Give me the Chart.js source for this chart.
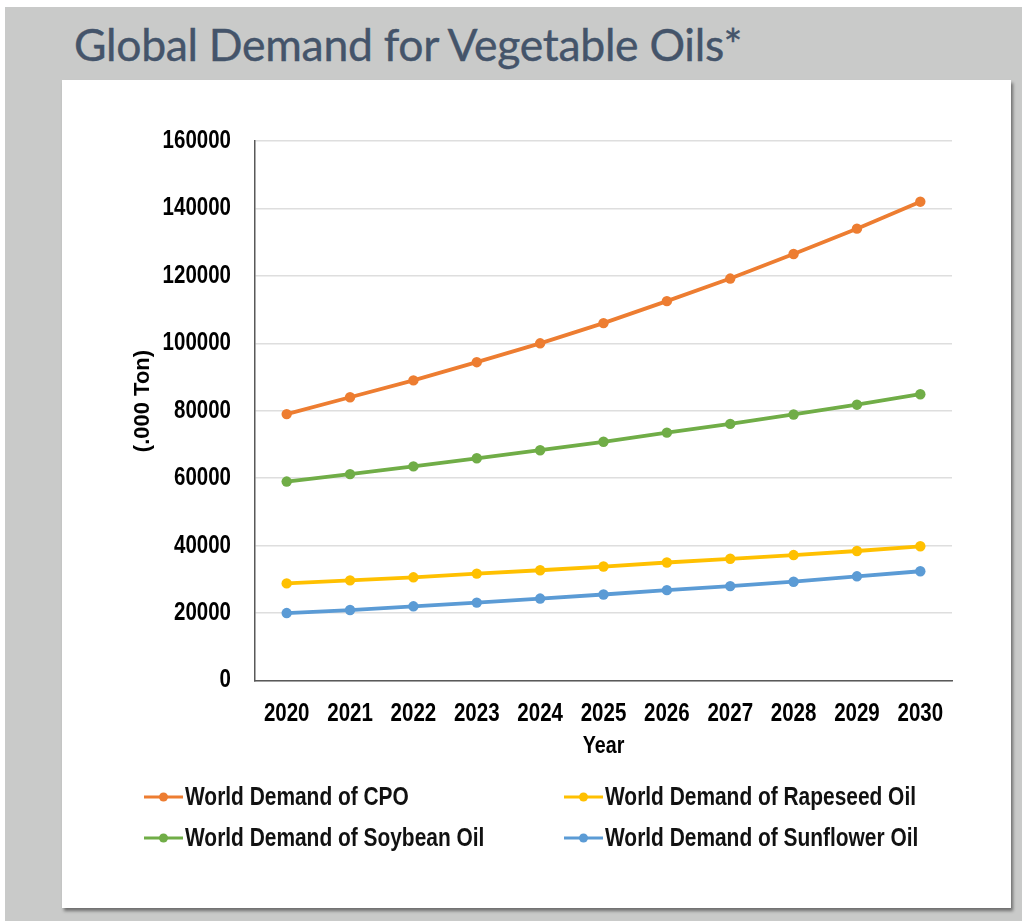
<!DOCTYPE html>
<html>
<head>
<meta charset="utf-8">
<title>Global Demand for Vegetable Oils</title>
<script src="https://cdn.jsdelivr.net/npm/chart.js@4/dist/chart.umd.min.js"></script>
<style>
  html, body { margin: 0; padding: 0; background: #ffffff; }
  body { width: 1022px; height: 923px; position: relative; overflow: hidden; }
  #backdrop { position: absolute; left: 5px; top: 7px; width: 1017px; height: 914px; background: #c9cac9; }
  h1 { position: absolute; left: 74px; top: 17px; margin: 0; font: 400 44.5px Lato, 'Open Sans', sans-serif; color: #44546a; letter-spacing: -0.3px; white-space: nowrap; -webkit-text-stroke: 0.4px #44546a; }
  #panel { position: absolute; left: 62px; top: 80px; width: 949px; height: 828px; background: #ffffff; box-shadow: 2px 3px 3px rgba(0,0,0,0.45); }
  #panel canvas { position: absolute; left: 0; top: 0; }
</style>
</head>
<body>
<div id="backdrop"></div>
<h1>Global Demand for Vegetable Oils*</h1>
<div id="panel"><canvas id="chart" width="949" height="828"></canvas></div>
<script>
// Years on the category axis
const years = ['2020', '2021', '2022', '2023', '2024', '2025', '2026', '2027', '2028', '2029', '2030'];

// Projected demand, thousand tonnes
const cpoDemand       = [79000, 84000, 89000, 94400, 100000, 106000, 112500, 119200, 126500, 134000, 142000];
const rapeseedDemand  = [28800, 29700, 30600, 31700, 32700, 33800, 35000, 36100, 37200, 38400, 39800];
const soybeanDemand   = [59000, 61200, 63500, 65900, 68300, 70800, 73500, 76100, 78900, 81800, 84900];
const sunflowerDemand = [20000, 20900, 22000, 23100, 24300, 25500, 26800, 28000, 29300, 30900, 32400];

const seriesNames = [
  'World Demand of CPO',
  'World Demand of Rapeseed Oil',
  'World Demand of Soybean Oil',
  'World Demand of Sunflower Oil'
];

const valueAxisTitle = '(.000 Ton)';
const categoryAxisTitle = 'Year';

// Value axis range
const yMin = 0;
const yMax = 160000;
const yStep = 20000;

const NARROW = "'Liberation Sans Narrow', 'Arial Narrow', 'Liberation Sans', Arial, sans-serif";
const WIDE = "'Liberation Sans', Arial, sans-serif";

const canvas = document.getElementById('chart');
const ctx2d = canvas.getContext('2d');

// A narrow sans face is not always installed. When it falls back to the
// regular width, squeeze the glyphs horizontally around their anchor point
// so labels keep the condensed proportions.
(function condenseNarrowText(ctx) {
  ctx.font = 'bold 40px ' + NARROW;
  const wNarrow = ctx.measureText('World 2020').width;
  ctx.font = 'bold 40px ' + WIDE;
  const wWide = ctx.measureText('World 2020').width;
  if (Math.abs(wNarrow - wWide) > 0.5) return;
  const squeeze = 0.82;
  const baseFill = ctx.fillText;
  ctx.fillText = function (text, x, y, maxWidth) {
    if (this.font.indexOf('Narrow') < 0) {
      return maxWidth === undefined ? baseFill.call(this, text, x, y) : baseFill.call(this, text, x, y, maxWidth);
    }
    this.save();
    this.translate(x, y);
    this.scale(squeeze, 1);
    if (maxWidth === undefined) baseFill.call(this, text, 0, 0);
    else baseFill.call(this, text, 0, 0, maxWidth / squeeze);
    this.restore();
  };
})(ctx2d);

function lineSeries(label, data, color) {
  return {
    label: label,
    data: data,
    borderColor: color,
    backgroundColor: color,
    pointBackgroundColor: color,
    pointBorderColor: color,
    borderWidth: 3.8,
    pointRadius: 5.2,
    pointBorderWidth: 0,
    tension: 0,
    fill: false
  };
}

// Rotated value-axis caption, placed left of the tick labels
const valueAxisCaption = {
  id: 'valueAxisCaption',
  afterDraw(chart, args, opts) {
    const ctx = chart.ctx;
    ctx.save();
    ctx.translate(opts.x, opts.y);
    ctx.rotate(-Math.PI / 2);
    ctx.fillStyle = '#000000';
    ctx.font = 'bold 22px ' + WIDE;
    ctx.textAlign = 'center';
    ctx.textBaseline = 'middle';
    ctx.fillText(opts.text, 0, 0);
    ctx.restore();
  }
};

// Two-column legend laid out in a fixed grid below the axis
const gridLegend = {
  id: 'gridLegend',
  afterDraw(chart, args, opts) {
    const ctx = chart.ctx;
    ctx.save();
    chart.data.datasets.forEach((ds, i) => {
      const col = i % 2;
      const row = Math.floor(i / 2);
      const x = opts.columns[col];
      const y = opts.rows[row];
      ctx.strokeStyle = ds.borderColor;
      ctx.lineWidth = 3;
      ctx.beginPath();
      ctx.moveTo(x, y);
      ctx.lineTo(x + opts.sampleLength, y);
      ctx.stroke();
      ctx.fillStyle = ds.borderColor;
      ctx.beginPath();
      ctx.arc(x + opts.sampleLength / 2, y, 4.5, 0, Math.PI * 2);
      ctx.fill();
      ctx.fillStyle = '#111111';
      ctx.font = 'bold 25.5px ' + NARROW;
      ctx.textAlign = 'left';
      ctx.textBaseline = 'middle';
      ctx.fillText(ds.label, x + opts.sampleLength + 2, y + 1);
    });
    ctx.restore();
  }
};

new Chart(canvas, {
  type: 'line',
  data: {
    labels: years,
    datasets: [
      lineSeries(seriesNames[0], cpoDemand, '#ed7d31'),
      lineSeries(seriesNames[1], rapeseedDemand, '#ffc000'),
      lineSeries(seriesNames[2], soybeanDemand, '#70ad47'),
      lineSeries(seriesNames[3], sunflowerDemand, '#5b9bd5')
    ]
  },
  options: {
    responsive: false,
    animation: false,
    devicePixelRatio: 1,
    layout: { padding: { left: 0, top: 61, right: 59, bottom: 147 } },
    plugins: {
      legend: { display: false },
      tooltip: { enabled: false },
      title: { display: false },
      valueAxisCaption: { text: valueAxisTitle, x: 81, y: 321 },
      gridLegend: { columns: [82, 502], rows: [717, 758], sampleLength: 39 }
    },
    scales: {
      x: {
        type: 'category',
        offset: true,
        grid: { display: false, drawTicks: false },
        border: { display: true, color: '#595959', width: 1.5 },
        ticks: { color: '#000000', padding: 18.5, font: { family: NARROW, size: 25, weight: 'bold' } },
        title: { display: true, text: categoryAxisTitle, color: '#000000', padding: { top: 0, bottom: 0 }, font: { family: NARROW, size: 24, weight: 'bold' } },
        afterFit(scale) { scale.height = 80.5; }
      },
      y: {
        min: yMin,
        max: yMax,
        ticks: {
          stepSize: yStep,
          color: '#000000',
          padding: 24,
          font: { family: NARROW, size: 25, weight: 'bold' },
          callback: (v) => String(v)
        },
        grid: { color: '#dedede', lineWidth: 1.5, drawTicks: false },
        border: { display: true, color: '#595959', width: 1.5 },
        title: { display: false },
        afterFit(scale) { scale.width = 193; }
      }
    }
  },
  plugins: [valueAxisCaption, gridLegend]
});
</script>
</body>
</html>
